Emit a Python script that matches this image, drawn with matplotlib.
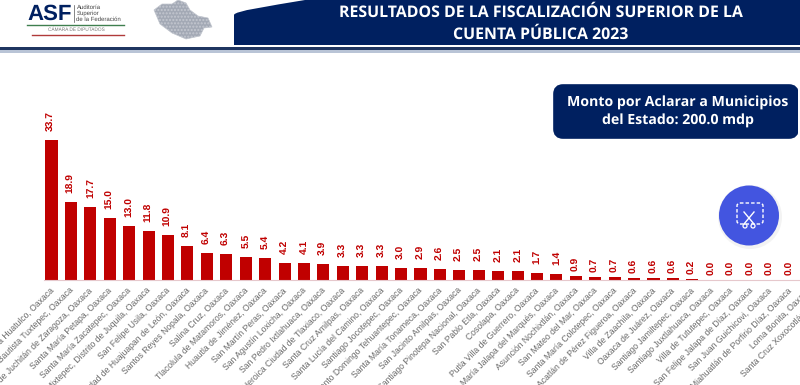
import matplotlib.pyplot as plt
from matplotlib.patches import FancyBboxPatch, Circle, PathPatch, Polygon, Rectangle
from matplotlib.path import Path
from matplotlib.transforms import ScaledTranslation

plt.rcParams['font.family'] = ['Liberation Sans', 'DejaVu Sans']
plt.rcParams['text.hinting'] = 'none'

municipios = [
    'Santa María Huatulco', 'San Juan Bautista Tuxtepec', 'Heroica Ciudad de Juchitán de Zaragoza',
    'Santa María Petapa', 'Santa María Zacatepec', 'San Pedro Mixtepec, Distrito de Juquila',
    'San Felipe Usila', 'Heroica Ciudad de Huajuapan de León', 'Santos Reyes Nopala',
    'Salina Cruz', 'Tlacolula de Matamoros', 'Huautla de Jiménez', 'San Martín Peras',
    'San Agustín Loxicha', 'San Pedro Ixtlahuaca', 'Heroica Ciudad de Tlaxiaco',
    'Santa Cruz Amilpas', 'Santa Lucía del Camino', 'Santiago Jocotepec',
    'Santo Domingo Tehuantepec', 'Santa María Tonameca', 'San Jacinto Amilpas',
    'Santiago Pinotepa Nacional', 'San Pablo Etla', 'Cosolapa', 'Putla Villa de Guerrero',
    'Santa María Jalapa del Marqués', 'Asunción Nochixtlán', 'San Mateo del Mar',
    'Santa María Colotepec', 'Acatlán de Pérez Figueroa', 'Villa de Zaachila',
    'Oaxaca de Juárez', 'Santiago Jamiltepec', 'Santiago Juxtlahuaca', 'Villa de Tututepec',
    'San Felipe Jalapa de Díaz', 'San Juan Guichicovi', 'Miahuatlán de Porfirio Díaz',
    'Loma Bonita', 'Santa Cruz Xoxocotlán',
]
montos = [33.7, 18.9, 17.7, 15.0, 13.0, 11.8, 10.9, 8.1, 6.4, 6.3, 5.5, 5.4, 4.2, 4.1,
          3.9, 3.3, 3.3, 3.3, 3.0, 2.9, 2.6, 2.5, 2.5, 2.1, 2.1, 1.7, 1.4, 0.9, 0.7, 0.7,
          0.6, 0.6, 0.6, 0.2, 0.0, 0.0, 0.0, 0.0, 0.0, 0.0, 0.0]

titulo = 'RESULTADOS DE LA FISCALIZACIÓN SUPERIOR DE LA\nCUENTA PÚBLICA 2023'
recuadro = 'Monto por Aclarar a Municipios\ndel Estado: 200.0 mdp'

navy = '#002060'
rojo = '#c00000'
W, H = 800, 385

fig = plt.figure(figsize=(8, 3.85), dpi=100, facecolor='white')

# chart axes run past the right edge, the last two labels get cut off like the original
paso = 19.42
x0 = 51.5
ancho_px = 860
base = 280
ax = fig.add_axes([0, 1 - base / H, ancho_px / W, (base - 100) / H])
ax.set_xlim(-x0 / paso, (ancho_px - x0) / paso)
ax.set_ylim(0, (base - 100) / 4.15)
ax.patch.set_alpha(0)

xs = list(range(len(montos)))
ax.bar(xs, montos, width=0.62, color=rojo)
for x, v in zip(xs, montos):
    # the small values sit closer to their bars in the original
    sep = 6.5 if v >= 1 else 3.6
    ax.annotate(f'{v:.1f}', (x, v), xytext=(0, sep), textcoords='offset points', rotation=90,
                ha='center', va='bottom', fontsize=7.4, color=rojo, fontweight='bold')

for s in ['top', 'left', 'right']:
    ax.spines[s].set_visible(False)
ax.spines['bottom'].set_color('#e6c8cc')
ax.spines['bottom'].set_linewidth(0.8)
ax.spines['bottom'].set_bounds(-0.4, len(montos))
ax.set_yticks([])
ax.set_xticks(xs)
ax.set_xticklabels([m + ', Oaxaca' for m in municipios], rotation=45, ha='right',
                   rotation_mode='anchor', fontsize=6.2, color='#666666')
ax.tick_params(axis='x', length=0, pad=4.5)
corrimiento = ScaledTranslation(-2 / 100, 0, fig.dpi_scale_trans)
for lab in ax.get_xticklabels():
    lab.set_transform(lab.get_transform() + corrimiento)

# header, logos and boxes in pixel coordinates
ov = fig.add_axes([0, 0, 1, 1])
ov.set_xlim(0, W)
ov.set_ylim(H, 0)
ov.axis('off')

ov.add_patch(Rectangle((0, 46.5), W, 3, color='#1f3560', lw=0))
ov.add_patch(Rectangle((0, 49.5), W, 3.5, color='#b9c4d6', lw=0))

banner = Path([(234, 45), (234, 15), (234, 11), (270, 6), (305, 0), (800, 0), (800, 45), (234, 45)],
              [Path.MOVETO, Path.LINETO, Path.CURVE4, Path.CURVE4, Path.CURVE4, Path.LINETO, Path.LINETO,
               Path.CLOSEPOLY])
ov.add_patch(PathPatch(banner, fc=navy, ec='none'))
ov.text(541, 23.5, titulo, color='white', fontsize=11.4, fontweight='bold', family='Open Sans',
        ha='center', va='center', linespacing=1.45)

ov.text(27, 14.5, 'ASF', color=navy, fontsize=16, fontweight='bold', family='Liberation Sans',
        ha='left', va='center')
ov.plot([74, 74], [5, 22], color='#555555', lw=0.5)
ov.text(76.5, 13.5, 'Auditoría\nSuperior\nde la Federación', fontsize=4.3, color='#444444',
        va='center', ha='left', linespacing=1.05)
ov.plot([27, 124], [25, 25], color='#3f7f4f', lw=1)
ov.plot([32, 124], [35, 35], color='#b03a3a', lw=1)
ov.text(76, 30, 'CÁMARA DE DIPUTADOS', fontsize=3.4, color='#777777', ha='center', va='center')

mapa = [(154, 10), (162, 4), (172, 4), (178, 0), (186, 3), (190, 10), (198, 16), (208, 18), (212, 27),
        (204, 28), (200, 36), (186, 39), (172, 33), (160, 24)]
ov.add_patch(Polygon(mapa, closed=True, fc='#a3a9b5', ec='#c4c8d0', lw=0.5, hatch='.....'))

ov.add_patch(FancyBboxPatch((557, 88), 238, 47, boxstyle='round,pad=0,rounding_size=6',
                            fc=navy, ec=navy, lw=5.5))
ov.add_patch(Rectangle((797.5, 84), 3, 55, color='white', lw=0))
ov.text(678, 112, recuadro, color='white', fontsize=10.2, fontweight='bold', family='Open Sans',
        ha='center', va='center', linespacing=1.3)

ov.add_patch(Circle((750, 217), 32, fc='#dddddd', ec='none', alpha=0.35))
ov.add_patch(Circle((749, 215.5), 30, fc='#4355e0', ec='none'))
ov.add_patch(FancyBboxPatch((737, 203), 26, 21, boxstyle='round,pad=0,rounding_size=3',
                            fc='none', ec='white', lw=1, ls=(0, (2.5, 1.5))))
ov.plot([744, 754], [212, 224], color='white', lw=1)
ov.plot([754, 744], [212, 224], color='white', lw=1)
ov.add_patch(Circle((745, 226), 2, fc='#4355e0', ec='white', lw=0.9))
ov.add_patch(Circle((753, 226), 2, fc='#4355e0', ec='white', lw=0.9))

fig.savefig('out.png', dpi=100)
